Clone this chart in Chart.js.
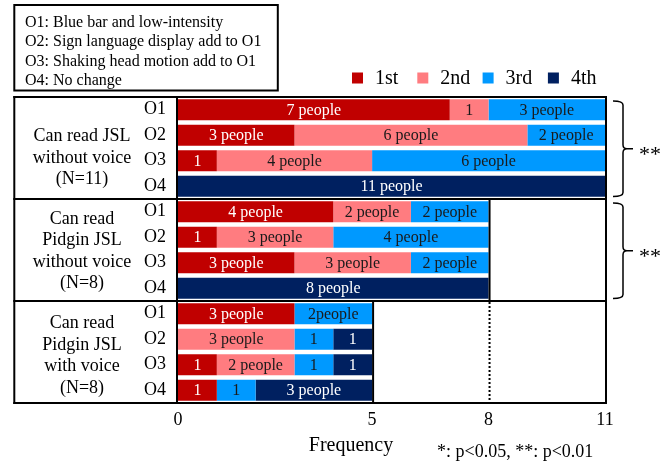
<!DOCTYPE html>
<html>
<head>
<meta charset="utf-8">
<script src="https://cdn.jsdelivr.net/npm/chart.js@4/dist/chart.umd.min.js"></script>
<style>
  html, body { margin: 0; padding: 0; background: #ffffff; }
  #wrap { width: 672px; height: 468px; }
</style>
</head>
<body>
<div id="wrap"><canvas id="c" width="672" height="468"></canvas></div>
<script>
// Rows: three reader groups, four display options each
const rowLabels = ['O1', 'O2', 'O3', 'O4', 'O1', 'O2', 'O3', 'O4', 'O1', 'O2', 'O3', 'O4'];
const seriesNames = ['1st', '2nd', '3rd', '4th'];

// Number of people ranking each option 1st..4th
const first  = [7, 3, 1, 0,  4, 1, 3, 0,  3, 0, 1, 1];
const second = [1, 6, 4, 0,  2, 3, 3, 0,  0, 3, 2, 0];
const third  = [3, 2, 6, 0,  2, 4, 2, 0,  2, 1, 1, 1];
const fourth = [0, 0, 0, 11, 0, 0, 0, 8,  0, 1, 1, 3];

// Text written inside each segment
const firstLabels  = ['7 people', '3 people', '1', '',  '4 people', '1', '3 people', '',  '3 people', '', '1', '1'];
const secondLabels = ['1', '6 people', '4 people', '',  '2 people', '3 people', '3 people', '',  '', '3 people', '2 people', ''];
const thirdLabels  = ['3 people', '2 people', '6 people', '',  '2 people', '4 people', '2 people', '',  '2people', '1', '1', '1'];
const fourthLabels = ['', '', '', '11 people',  '', '', '', '8 people',  '', '1', '1', '3 people'];

const groupTitles = [
  ['Can read JSL', 'without voice', '(N=11)'],
  ['Can read', 'Pidgin JSL', 'without voice', '(N=8)'],
  ['Can read', 'Pidgin JSL', 'with voice', '(N=8)']
];
const groupSizes = [11, 8, 5];          // right edge of each group's frame, in frequency units
const significance = ['**', '**', ''];  // marks drawn beside each group's brace
const optionNotes = [
  'O1: Blue bar and low-intensity',
  'O2: Sign language display add to O1',
  'O3: Shaking head motion add to O1',
  'O4: No change'
];
const xTickValues = [0, 5, 8, 11];
const xMax = 11;

const SERIF = "'Liberation Serif', 'Times New Roman', serif";
const colors = ['#C00000', '#FF7C80', '#0099FF', '#002060'];
const labelInk = ['#ffffff', '#1a1a1a', '#1a1a1a', '#ffffff'];

const decor = {
  id: 'decor',
  afterDatasetsDraw(chart) {
    const ctx = chart.ctx;
    const xs = chart.scales.x, ys = chart.scales.y;
    const ca = chart.chartArea;
    const xp = v => xs.getPixelForValue(v);

    // segment labels
    ctx.save();
    ctx.font = '16px ' + SERIF;
    ctx.textAlign = 'center';
    ctx.textBaseline = 'middle';
    chart.data.datasets.forEach((ds, di) => {
      const meta = chart.getDatasetMeta(di);
      meta.data.forEach((el, i) => {
        const t = ds.segmentText[i];
        if (!t) return;
        ctx.fillStyle = ds.segmentInk;
        ctx.fillText(t, (el.x + el.base) / 2, el.y + 1);
      });
    });
    ctx.restore();
  },
  afterDraw(chart) {
    const ctx = chart.ctx;
    const xs = chart.scales.x, ys = chart.scales.y;
    const ca = chart.chartArea;
    const xp = v => xs.getPixelForValue(v);
    const nG = groupTitles.length;
    const bound = k => {
      if (k === 0) return ca.top;
      if (k === nG) return ca.bottom;
      return (ys.getPixelForValue(4 * k - 1) + ys.getPixelForValue(4 * k)) / 2;
    };
    const frameLeft = 14.3;
    const outerRight = xp(xMax) + 1;

    ctx.save();
    ctx.strokeStyle = '#000';
    ctx.lineWidth = 2;
    const line = (x1, y1, x2, y2) => { ctx.beginPath(); ctx.moveTo(x1, y1); ctx.lineTo(x2, y2); ctx.stroke(); };

    // group frames
    for (let k = 0; k <= nG; k++) line(frameLeft - 1, bound(k), outerRight + 1, bound(k));
    line(frameLeft, ca.top - 1, frameLeft, ca.bottom + 1);
    line(ca.left - 1, ca.top, ca.left - 1, ca.bottom);
    line(outerRight, ca.top - 1, outerRight, ca.bottom + 1);
    for (let g = 0; g < nG; g++) {
      line(xp(groupSizes[g]) + 1, bound(g), xp(groupSizes[g]) + 1, bound(g + 1));
    }
    // dotted continuation of the N=8 group edge
    ctx.setLineDash([2, 2]);
    line(xp(groupSizes[1]) + 1, bound(2) + 1, xp(groupSizes[1]) + 1, bound(3));
    ctx.setLineDash([]);

    // group titles
    const shifts = [14.5, 5.75, 8.25];
    ctx.fillStyle = '#000';
    ctx.font = '18px ' + SERIF;
    ctx.textAlign = 'center';
    ctx.textBaseline = 'alphabetic';
    groupTitles.forEach((lines, g) => {
      const c = (bound(g) + bound(g + 1)) / 2 + shifts[g];
      lines.forEach((t, i) => {
        ctx.fillText(t, 82, c + (i - (lines.length - 1) / 2) * 21.5);
      });
    });

    // braces with significance marks
    ctx.lineWidth = 1.5;
    significance.forEach((mark, g) => {
      if (!mark) return;
      const top = bound(g) + 4, bot = bound(g + 1) - 2.5, mid = (top + bot) / 2;
      const x0 = 613, x1 = 623, r = 4;
      ctx.beginPath();
      ctx.moveTo(x0, top);
      ctx.quadraticCurveTo(x1, top, x1, top + r);
      ctx.lineTo(x1, mid - r);
      ctx.quadraticCurveTo(x1, mid, x1 + r, mid);
      ctx.lineTo(633, mid);
      ctx.moveTo(x1 + r, mid);
      ctx.quadraticCurveTo(x1, mid, x1, mid + r);
      ctx.lineTo(x1, bot - r);
      ctx.quadraticCurveTo(x1, bot, x0, bot);
      ctx.stroke();
      ctx.font = '22px ' + SERIF;
      ctx.textAlign = 'left';
      ctx.fillText(mark, 639, mid + 12);
    });

    // option notes box
    ctx.lineWidth = 2;
    ctx.strokeRect(14.3, 5, 263.5, 85.5);
    ctx.font = '16px ' + SERIF;
    ctx.textAlign = 'left';
    optionNotes.forEach((t, i) => ctx.fillText(t, 25, 26.7 + i * 19.5));

    // rank legend
    ctx.font = '20px ' + SERIF;
    seriesNames.forEach((name, i) => {
      const x = 352 + i * 65.3;
      ctx.fillStyle = colors[i];
      ctx.fillRect(x, 72.5, 11, 11);
      ctx.fillStyle = '#000';
      ctx.fillText(name, x + 23, 83.5);
    });

    // axis title and footnote
    ctx.font = '20px ' + SERIF;
    ctx.textAlign = 'center';
    ctx.fillText('Frequency', 351, 451);
    ctx.font = '18px ' + SERIF;
    ctx.textAlign = 'left';
    ctx.fillText('*: p<0.05, **: p<0.01', 437, 457);
    ctx.restore();
  }
};

const series = [first, second, third, fourth];
const texts = [firstLabels, secondLabels, thirdLabels, fourthLabels];

new Chart(document.getElementById('c'), {
  type: 'bar',
  data: {
    labels: rowLabels,
    datasets: series.map((vals, i) => ({
      label: seriesNames[i],
      data: vals,
      backgroundColor: colors[i],
      borderWidth: 0,
      barPercentage: 0.82,
      categoryPercentage: 1.0,
      segmentText: texts[i],
      segmentInk: labelInk[i]
    }))
  },
  options: {
    indexAxis: 'y',
    responsive: false,
    devicePixelRatio: 1,
    animation: false,
    layout: { padding: { left: 13, right: 67, top: 97, bottom: 35 } },
    plugins: { legend: { display: false }, tooltip: { enabled: false } },
    scales: {
      x: {
        stacked: true,
        min: 0,
        max: xMax,
        grid: { display: false, drawTicks: false },
        border: { display: false },
        afterBuildTicks: s => { s.ticks = xTickValues.map(v => ({ value: v })); },
        afterFit: s => { s.height = 30; },
        ticks: { color: '#000', padding: 6, font: { family: SERIF, size: 18 }, maxRotation: 0 }
      },
      y: {
        stacked: true,
        grid: { display: false, drawTicks: false },
        border: { display: false },
        afterFit: s => { s.width = 165; },
        ticks: { color: '#000', padding: 12, autoSkip: false, font: { family: SERIF, size: 18 } }
      }
    }
  },
  plugins: [decor]
});
</script>
</body>
</html>
